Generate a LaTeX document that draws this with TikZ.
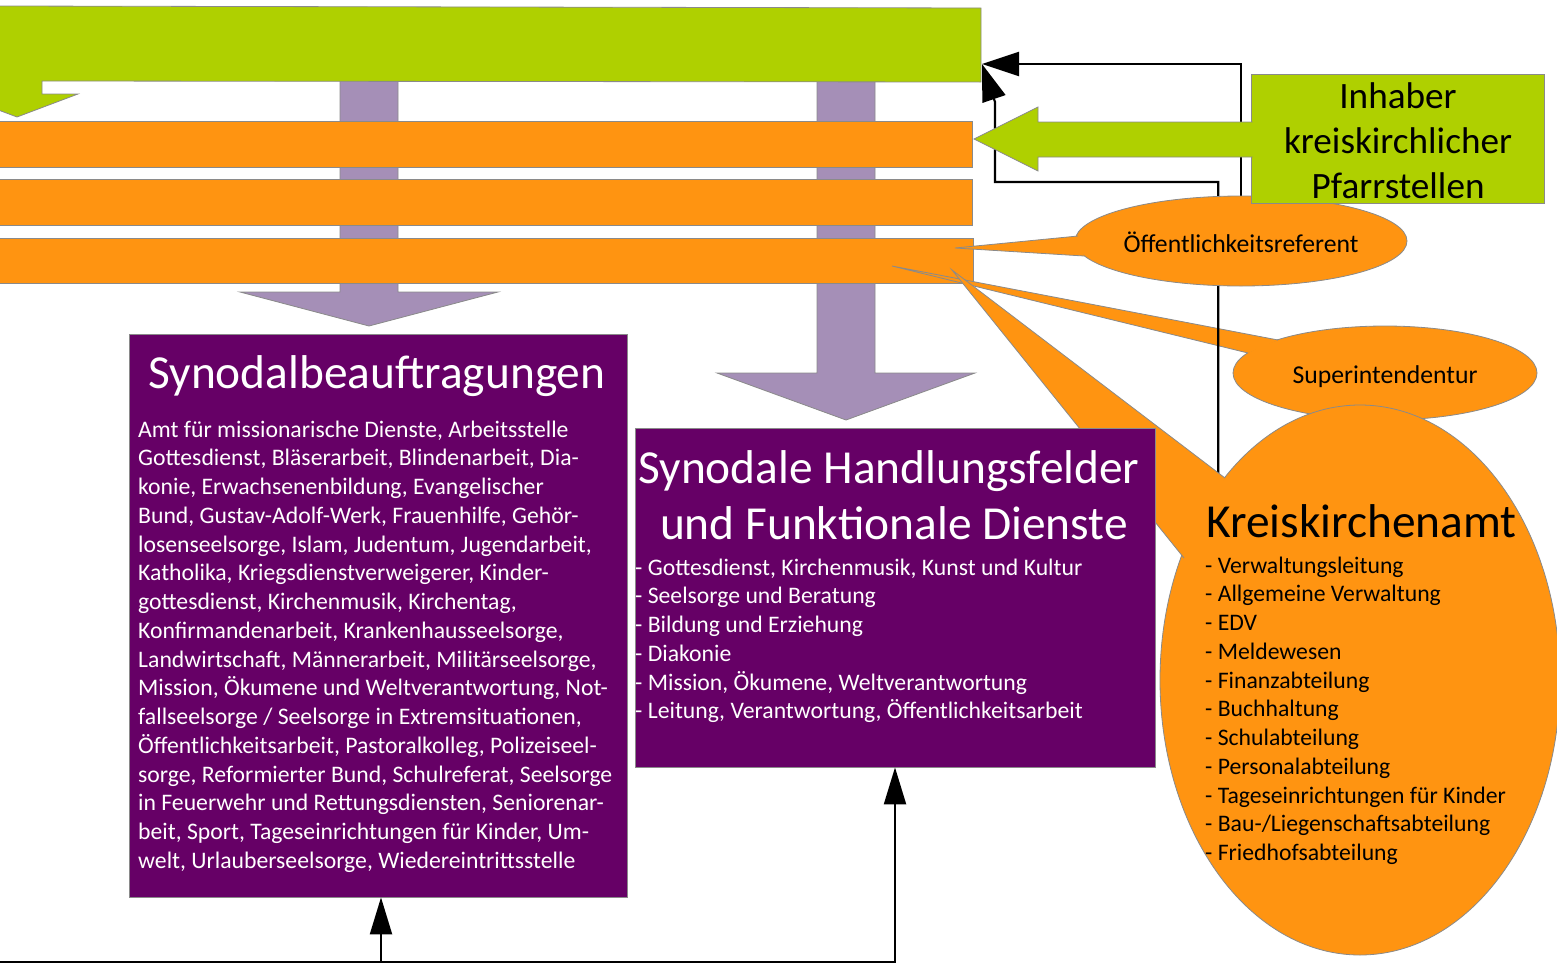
\documentclass[tikz,border=0pt]{standalone}
\usepackage{fontspec}
\setmainfont{Carlito}
\usetikzlibrary{arrows.meta,shapes.geometric}
\definecolor{lgreen}{HTML}{AFD000}
\definecolor{orng}{HTML}{FF9411}
\definecolor{lav}{HTML}{A58FB7}
\definecolor{purp}{HTML}{660066}
\definecolor{edgegray}{HTML}{8A8A8A}
\pgfdeclarelayer{lowest}
\pgfdeclarelayer{lower}
\pgfdeclarelayer{lines}
\pgfsetlayers{lowest,lower,lines,main}
\begin{document}
\begin{tikzpicture}[x=1pt,y=-1pt,
  edgeline/.style={draw=edgegray, line width=0.8pt},
  greenshape/.style={fill=lgreen, edgeline},
  orangeshape/.style={fill=orng, edgeline},
  lavshape/.style={fill=lav, edgeline},
  purplebox/.style={rectangle, fill=purp, edgeline, inner sep=0pt},
  callout/.style={ellipse, fill=orng, edgeline, inner sep=0pt},
  conn/.style={line width=2.2pt, draw=black},
  arrowend/.style={-{Triangle[length=37pt,width=24pt]}},
  arrowup/.style={-{Triangle[length=37pt,width=22pt]}},
  titlefont/.style={font=\fontsize{47.4}{56}\selectfont, inner sep=0pt},
  bodyfont/.style={font=\fontsize{23.7}{28.75}\selectfont, inner sep=0pt, align=left},
  calloutfont/.style={font=\fontsize{25.7}{30}\selectfont, inner sep=0pt},
  greenfont/.style={font=\fontsize{37.2}{45}\selectfont, inner sep=0pt, align=center}
]
\useasboundingbox (0,0) rectangle (1557,964);

% ---------- background shapes ----------
\begin{pgfonlayer}{lowest}
  % lavender arrows
  \filldraw[lavshape] (340,80) -- (398,80) -- (398,292) -- (498,292) -- (369,326) -- (240,292) -- (340,292) -- cycle;
  \filldraw[lavshape] (817,80) -- (875,80) -- (875,373) -- (975,373) -- (846,420) -- (717,373) -- (817,373) -- cycle;
  % green bent arrow banner
  \filldraw[greenshape] (0,6) -- (981,8) -- (981,82) -- (42,81) -- (42,94) -- (78,94) -- (17,117) -- (0,110.6);
  % orange bars
  \filldraw[orangeshape] (0,121) -- (972,121) -- (972,167) -- (0,167);
  \filldraw[orangeshape] (0,179) -- (972,179) -- (972,225) -- (0,225);
  \filldraw[orangeshape] (0,238) -- (973,238) -- (973,283) -- (0,283);
\end{pgfonlayer}

% ---------- Superintendentur callout ----------
\begin{pgfonlayer}{lower}
  \node[callout, minimum width=304pt, minimum height=94pt] (supe) at (1385,373) {};
  \fill[orng] (892,266) -- (1278,340) -- (1248,353) -- cycle;
  \draw[edgeline] (1278,340) -- (892,266) -- (1248,353);
  \node[calloutfont, anchor=base] (supetext) at (1385,383) {Superintendentur};
\end{pgfonlayer}

% ---------- Öffentlichkeitsreferent callout ----------
\node[callout, minimum width=332pt, minimum height=90pt] (oeff) at (1241,241) {};
\fill[orng] (955,248) -- (1078,236) -- (1084,256) -- cycle;
\draw[edgeline] (1078,236) -- (955,248) -- (1084,256);
\node[calloutfont, anchor=base] (oefftext) at (1241,252) {Öffentlichkeitsreferent};

% ---------- Kreiskirchenamt callout ----------
\node[callout, minimum width=400pt, minimum height=550pt] (kka) at (1360,680) {};
\fill[orng] (952,270) -- (1225,478) -- (1184,558) -- cycle;
\draw[edgeline] (1225,478) -- (952,270) -- (1184,558);
\node[titlefont, anchor=base west] (kkatitle) at (1206,537) {Kreiskirchenamt};
\node[bodyfont, anchor=north west] (kkabody) at (1205,553) {\rule{0pt}{20pt}- Verwaltungsleitung\\
- Allgemeine Verwaltung\\
- EDV\\
- Meldewesen\\
- Finanzabteilung\\
- Buchhaltung\\
- Schulabteilung\\
- Personalabteilung\\
- Tageseinrichtungen für Kinder\\
- Bau-/Liegenschaftsabteilung\\
- Friedhofsabteilung};

% ---------- purple boxes ----------
\node[purplebox, minimum width=498pt, minimum height=563pt] (sb) at (378,615.5) {};
\node[titlefont, text=white, anchor=base] (sbtitle) at (377,388) {Synodalbeauftragungen};
\node[bodyfont, text=white, anchor=north west] (sbbody) at (138,417) {\rule{0pt}{20pt}Amt für missionarische Dienste, Arbeitsstelle\\
Gottesdienst, Bläserarbeit, Blindenarbeit, Dia-\\
konie, Erwachsenenbildung, Evangelischer\\
Bund, Gustav-Adolf-Werk, Frauenhilfe, Gehör-\\
losenseelsorge, Islam, Judentum, Jugendarbeit,\\
Katholika, Kriegsdienstverweigerer, Kinder-\\
gottesdienst, Kirchenmusik, Kirchentag,\\
Konfirmandenarbeit, Krankenhausseelsorge,\\
Landwirtschaft, Männerarbeit, Militärseelsorge,\\
Mission, Ökumene und Weltverantwortung, Not-\\
fallseelsorge / Seelsorge in Extremsituationen,\\
Öffentlichkeitsarbeit, Pastoralkolleg, Polizeiseel-\\
sorge, Reformierter Bund, Schulreferat, Seelsorge\\
in Feuerwehr und Rettungsdiensten, Seniorenar-\\
beit, Sport, Tageseinrichtungen für Kinder, Um-\\
welt, Urlauberseelsorge, Wiedereintrittsstelle};

\node[purplebox, minimum width=520pt, minimum height=339pt] (shf) at (895,597.5) {};
\node[titlefont, text=white, anchor=base] (shftitleA) at (889,483) {Synodale Handlungsfelder};
\node[titlefont, text=white, anchor=base] (shftitleB) at (894,539) {und Funktionale Dienste};
\node[bodyfont, text=white, anchor=north west] (shfbody) at (635,555) {\rule{0pt}{20pt}- Gottesdienst, Kirchenmusik, Kunst und Kultur\\
- Seelsorge und Beratung\\
- Bildung und Erziehung\\
- Diakonie\\
- Mission, Ökumene, Weltverantwortung\\
- Leitung, Verantwortung, Öffentlichkeitsarbeit};

% ---------- Inhaber box and arrow ----------
\node[rectangle, greenshape, inner sep=0pt, minimum width=293pt, minimum height=129pt] (inh) at (1397.5,139) {};
\fill[lgreen] (1253.5,122) -- (1038,122) -- (1038,107) -- (974,139) -- (1038,171) -- (1038,157) -- (1253.5,157) -- cycle;
\draw[edgeline] (1252.5,122) -- (1038,122) -- (1038,107) -- (974,139) -- (1038,171) -- (1038,157) -- (1252.5,157);
\node[greenfont, anchor=north] (inhtext) at (1398,78) {\rule{0pt}{30pt}Inhaber\\kreiskirchlicher\\Pfarrstellen};

% ---------- connectors ----------
\coordinate (gE) at (982,64);
\begin{pgfonlayer}{lines}
  \draw[conn, arrowend] (oeff.north) |- (gE);
  \draw[conn, arrowend] (kka.north west) |- (995,182) -- (995,102) -- (gE);
\end{pgfonlayer}

\coordinate (bl) at (0,962);
\coordinate (bj) at (381,962);
\draw[conn, arrowup] (bl) -| (shf.south);
\draw[conn, arrowup] (bj) -- (bj |- sb.south);
\end{tikzpicture}
\end{document}
